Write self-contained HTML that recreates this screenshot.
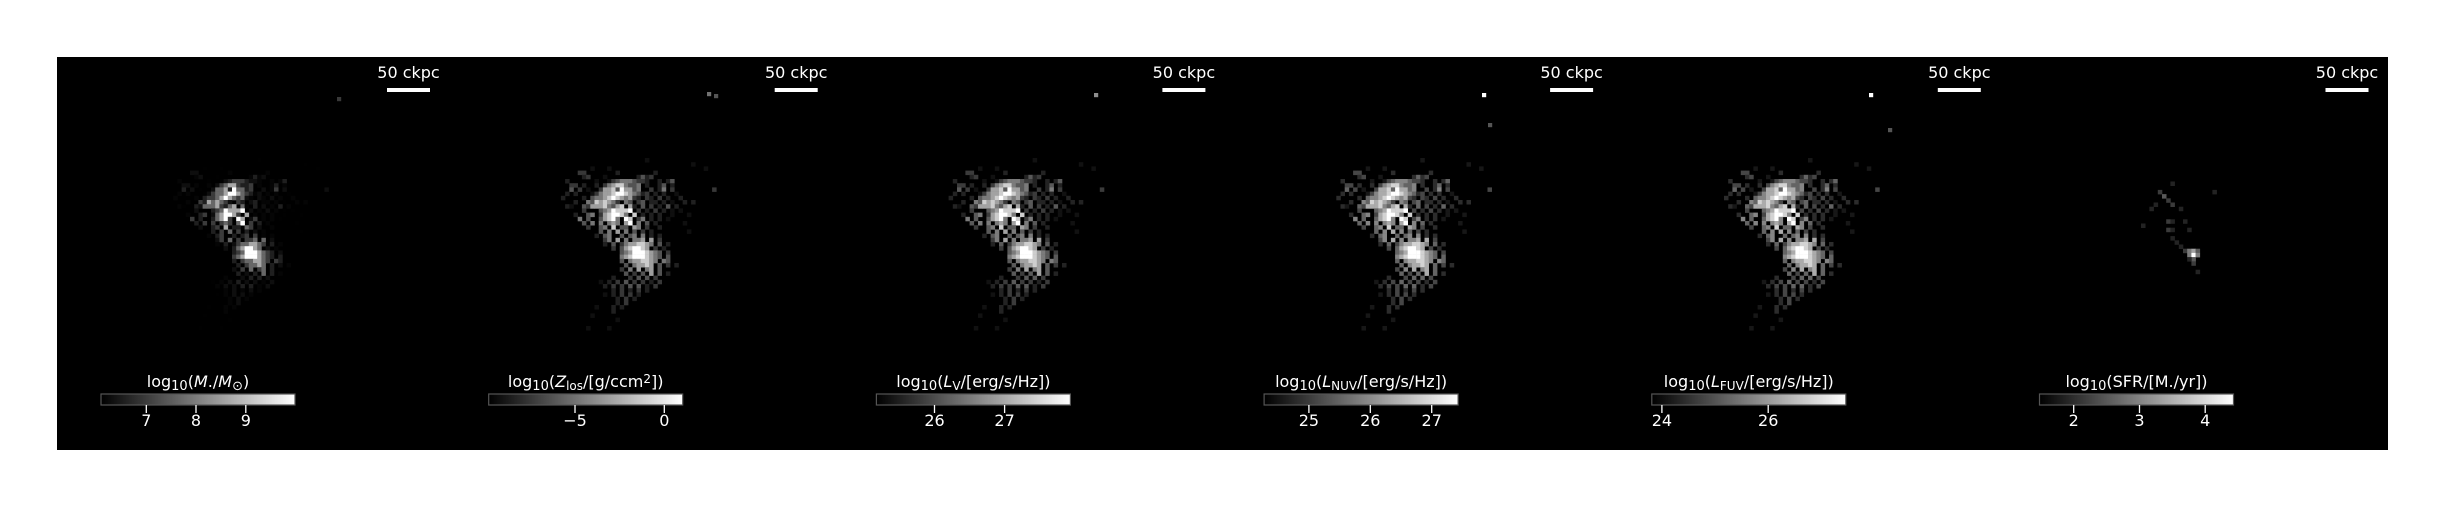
<!DOCTYPE html>
<html><head><meta charset="utf-8">
<style>
html,body{margin:0;padding:0;background:#fff;}
svg{display:block;font-family:"DejaVu Sans","Liberation Sans",sans-serif;}
</style></head>
<body>
<svg id="fig" width="2444" height="507" viewBox="0 0 2444 507">
<defs>
<linearGradient id="gray" x1="0" x2="1" y1="0" y2="0"><stop offset="0" stop-color="#000"/><stop offset="1" stop-color="#fff"/></linearGradient>
</defs>
<rect x="57" y="57" width="2331" height="393" fill="#000"/>
<g id="panels"></g>
</svg>
<script>
// ---- data ----
const panelNames = ["stellar-mass","metal-column","lum-v","lum-nuv","lum-fuv","sfr"];
const cbLabels = [
 'log<tspan baseline-shift="-25%" font-size="13">10</tspan>(<tspan font-style="italic">M</tspan>./<tspan font-style="italic">M</tspan><tspan baseline-shift="-25%" font-size="13">⊙</tspan>)',
 'log<tspan baseline-shift="-25%" font-size="13">10</tspan>(<tspan font-style="italic">Z</tspan><tspan baseline-shift="-25%" font-size="12">los</tspan>/[g/ccm<tspan baseline-shift="35%" font-size="12">2</tspan>])',
 'log<tspan baseline-shift="-25%" font-size="13">10</tspan>(<tspan font-style="italic">L</tspan><tspan baseline-shift="-25%" font-size="12">V</tspan>/[erg/s/Hz])',
 'log<tspan baseline-shift="-25%" font-size="13">10</tspan>(<tspan font-style="italic">L</tspan><tspan baseline-shift="-25%" font-size="12">NUV</tspan>/[erg/s/Hz])',
 'log<tspan baseline-shift="-25%" font-size="13">10</tspan>(<tspan font-style="italic">L</tspan><tspan baseline-shift="-25%" font-size="12">FUV</tspan>/[erg/s/Hz])',
 'log<tspan baseline-shift="-25%" font-size="13">10</tspan>(SFR/[M./yr])'
];
const cbMin = [6.09, -9.83, 25.17, 24.27, 23.81, 1.48];
const cbMax = [9.99, 1.03, 27.94, 27.43, 27.46, 4.43];
const cbTicks = [[7,8,9],[-5,0],[26,27],[25,26,27],[24,26],[2,3,4]];
const cbTickLabels = [["7","8","9"],["−5","0"],["26","27"],["25","26","27"],["24","26"],["2","3","4"]];
const panelGamma = [3.6, 1.9, 1.8, 1.6, 1.6, 1.8];
const galaxyMap = [
"                     2",
"                                2",
"        2   2                      2",
"     44       3        3",
"      34   2       3534",
"  3      2  2456665443  3 35",
"   44 3  3 467886556 3  35 3",
"   5 4 2  4778597756  4 36 4         4",
"  3 3   24677899876534 3 3  2",
" 3    3 566789876743 43 4 3  3",
"    3  65878764 65 45 33 3 2  3 3",
"  32  5477786578 73 5 4 3 5 3",
"      4   56798889 4 3 4 3 2 2",
"    3  56 4789986 8 3 3 3  2   2",
"     6 5  57896 98 46 3 3 2",
"      5 6 6 676 79 6 5 3      2",
"       4  56 8 55 76 4  3",
"          5 6 7 6 5 4 3        2",
"         3 56  5 56 6 3 3",
"           46 7 6 667 7 4",
"           3 5 46778876 5 3",
"             4 5789987 4 3",
"               5679998765 4",
"               6789998765 5",
"               5 6778876 65",
"                5 67787 5 4 3",
"               4 6 7 67 5",
"                5 4 5 7 5 3",
"             3   4 5 5 4",
"          2 3 4 5 4 4 3 4",
"           3 4 4 5 5 3 4",
"             3 4 3 4 3",
"           2 3 4 4 3",
"              3 4 3",
"              3 4",
"         2   3 3",
"             3",
"        2",
"              2",
"",
"       2    2"
];
// SFR map: [dx, dy, level] in cells relative to core
const sfrCells = [[-5,-17,3],[-8,-15,4],[-7,-14,5],[-6,-13,4],[-5,-12,4],[-9,-12,3],[-10,-11,3],[-3,-11,3],[5,-15,3],[-12,-7,3],[-6,-8,4],[-5,-8,3],[-2,-8,3],[-6,-6,4],[-5,-6,3],[-1,-6,3],[-5,-4,3],[-4,-3,3],[-3,-2,3],[-2,-1,4],[-1,-1,6],[0,-1,7],[1,-1,5],[-1,0,6],[0,0,9],[1,0,6],[0,1,5],[-1,1,3],[0,2,4],[1,4,3]];
// isolated outlier pixels: [panelIndex, absX, absY, level]
const outliers = [[1,709,94,4],[1,716,96,3],[2,1096,95,5],[3,1484,95,9],[4,1871,95,9],[3,1490,125,3],[4,1890,130,3],[0,339,99,2]];

// ---- layout ----
const P0 = 57, PW = 387.7, TOP = 57, CELL = 4.2;
const mapOX = 112, mapOY = 101, coreRX = 198, coreRY = 198;
const cbRX = 44, cbW = 194, cbY = 394, cbH = 11;
const NS = "http://www.w3.org/2000/svg";
const root = document.getElementById("panels");
function mk(tag, attrs, parent){const e=document.createElementNS(NS,tag);for(const k in attrs)e.setAttribute(k,attrs[k]);(parent||root).appendChild(e);return e;}
function gray(v,g){const c=Math.round(255*Math.pow(Math.min(v,9)/9,g));return `rgb(${c},${c},${c})`;}

for(let p=0;p<6;p++){
  const px = P0 + p*PW;
  const g = mk("g",{});
  
  
  if(p<5){
    galaxyMap.forEach((row,r)=>{
      for(let c=0;c<row.length;c++){
        const ch=row[c]; if(ch===' ')continue;
        const v=+ch;
        const cell=mk("rect",{x:(px+mapOX+c*CELL).toFixed(1),y:(TOP+mapOY+r*CELL).toFixed(1),width:CELL+0.3,height:CELL+0.3,fill:gray(v,panelGamma[p])},g);
        
        
      }
    });
  } else {
    sfrCells.forEach(d=>{
      const cell=mk("rect",{x:(px+coreRX+(d[0]-0.5)*CELL).toFixed(1),y:(TOP+coreRY+(d[1]-0.5)*CELL).toFixed(1),width:CELL+0.3,height:CELL+0.3,fill:gray(d[2],panelGamma[p])},g);
      
      
    });
  }
  outliers.filter(o=>o[0]===p).forEach(o=>{
    const cell=mk("rect",{x:o[1]-2,y:o[2]-2,width:CELL,height:CELL,fill:gray(o[3],1)},g);
    
    
  });
  const sb = mk("rect",{x:(px+330).toFixed(1),y:88,width:43,height:4,fill:"#fff"},g);
  
  
  const st = mk("text",{x:(px+351.5).toFixed(1),y:78,fill:"#fff","font-size":"16","text-anchor":"middle"},g);
  st.textContent="50 ckpc";
  
  
  const cx = px+cbRX;
  const cb = mk("rect",{x:cx.toFixed(1),y:cbY,width:cbW,height:cbH,fill:"url(#gray)",stroke:"#555","stroke-width":1.2},g);
  
  
  const lab = mk("text",{x:(cx+cbW/2).toFixed(1),y:387,fill:"#fff","font-size":"16","text-anchor":"middle"},g);
  lab.innerHTML = cbLabels[p];
  
  
  const scale = v => cx + (v-cbMin[p])/(cbMax[p]-cbMin[p])*cbW;
  cbTicks[p].forEach((t,i)=>{
    const tx = scale(t);
    const tl = mk("line",{x1:tx.toFixed(1),x2:tx.toFixed(1),y1:cbY+cbH,y2:cbY+cbH+8,stroke:"#fff","stroke-width":1.3},g);
    
    
    const tt = mk("text",{x:tx.toFixed(1),y:426,fill:"#fff","font-size":"16","text-anchor":"middle"},g);
    tt.textContent = cbTickLabels[p][i];
    
    
  });
}
</script>
</body></html>
